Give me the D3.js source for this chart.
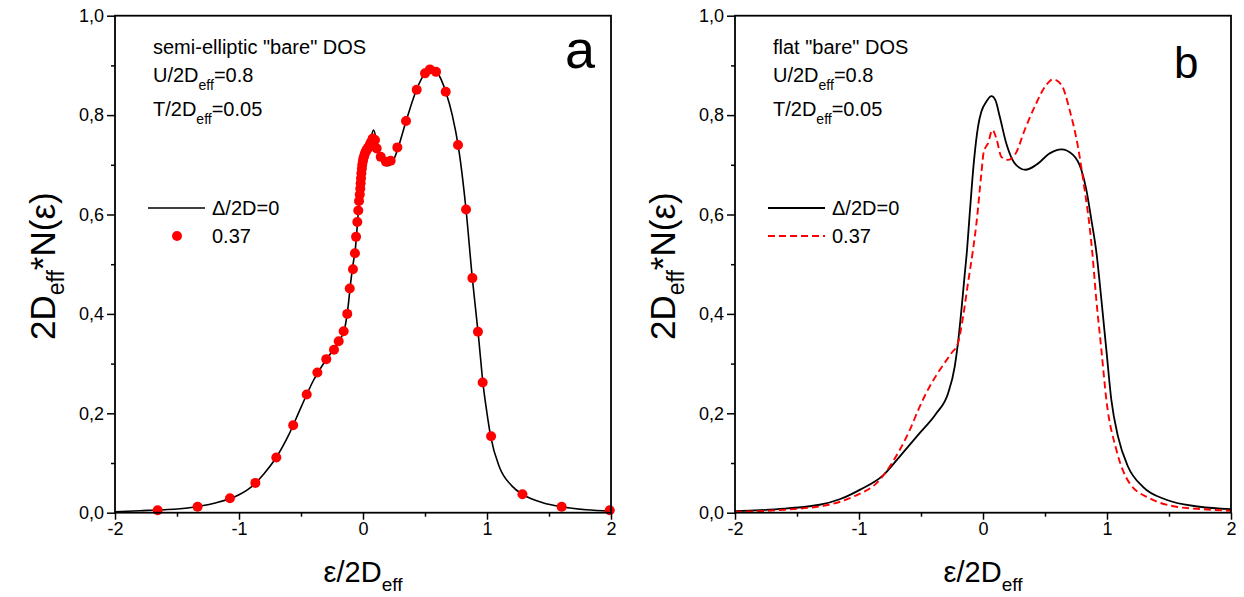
<!DOCTYPE html>
<html>
<head>
<meta charset="utf-8">
<script src="https://cdn.jsdelivr.net/npm/d3@7"></script>
<style>
  body { margin: 0; background: #fff; }
  svg { display: block; font-family: "Liberation Sans", Arial, sans-serif; }
</style>
</head>
<body>
<svg id="chart" width="1244" height="597"></svg>
<script>
// panel a: semi-elliptic bare DOS, Delta/2D = 0 (line) and 0.37 (dots)
var semiLine = [
    [-2.0, 0.002], [-1.8, 0.004], [-1.6, 0.006], [-1.4, 0.010], [-1.2, 0.019],
    [-1.0, 0.036], [-0.9, 0.052], [-0.8, 0.078], [-0.7, 0.111], [-0.6, 0.156],
    [-0.5, 0.212], [-0.4, 0.266], [-0.3, 0.307], [-0.2, 0.343], [-0.15, 0.368],
    [-0.12, 0.415], [-0.1, 0.462], [-0.08, 0.50], [-0.06, 0.535], [-0.04, 0.598],
    [-0.02, 0.660], [0.0, 0.705], [0.03, 0.730], [0.06, 0.750], [0.085, 0.770],
    [0.11, 0.748], [0.14, 0.716], [0.17, 0.700], [0.2, 0.698], [0.24, 0.706],
    [0.28, 0.732], [0.35, 0.790], [0.43, 0.850], [0.5, 0.884], [0.55, 0.892],
    [0.6, 0.885], [0.67, 0.845], [0.72, 0.800], [0.77, 0.735], [0.83, 0.612],
    [0.88, 0.476], [0.93, 0.358], [0.97, 0.255], [1.0, 0.200], [1.03, 0.153],
    [1.1, 0.092], [1.2, 0.054], [1.3, 0.035], [1.45, 0.020], [1.6, 0.012],
    [1.8, 0.006], [2.0, 0.003]
];

var semiDots = [
    [-1.656, 0.005], [-1.334, 0.012], [-1.073, 0.029], [-0.868, 0.060], [-0.699, 0.111],
    [-0.563, 0.176], [-0.454, 0.238], [-0.368, 0.282], [-0.296, 0.309], [-0.234, 0.328],
    [-0.196, 0.345], [-0.156, 0.365], [-0.127, 0.400], [-0.107, 0.451], [-0.081, 0.490],
    [-0.065, 0.522], [-0.056, 0.555], [-0.046, 0.585], [-0.038, 0.608], [-0.032, 0.627],
    [-0.026, 0.640], [-0.022, 0.652], [-0.019, 0.663], [-0.016, 0.673], [-0.013, 0.683],
    [-0.009, 0.692], [-0.006, 0.700], [-0.001, 0.707], [0.003, 0.713], [0.010, 0.718],
    [0.016, 0.723], [0.023, 0.727], [0.030, 0.730], [0.040, 0.734], [0.048, 0.737],
    [0.057, 0.742], [0.065, 0.746], [0.078, 0.753], [0.097, 0.750], [0.110, 0.733],
    [0.143, 0.716], [0.185, 0.706], [0.223, 0.708], [0.277, 0.735], [0.347, 0.788],
    [0.433, 0.851], [0.500, 0.884], [0.540, 0.892], [0.589, 0.887], [0.667, 0.847],
    [0.766, 0.740], [0.831, 0.610], [0.882, 0.472], [0.927, 0.364], [0.965, 0.262],
    [1.033, 0.154], [1.286, 0.037], [1.602, 0.012], [1.990, 0.005]
];

// panel b: flat bare DOS
var flatLine0 = [
    [-2.0, 0.003], [-1.8, 0.005], [-1.6, 0.008], [-1.4, 0.013], [-1.317, 0.016],
    [-1.156, 0.027], [-0.994, 0.046], [-0.806, 0.075], [-0.672, 0.113], [-0.511, 0.160],
    [-0.376, 0.200], [-0.282, 0.240], [-0.228, 0.294], [-0.202, 0.341], [-0.174, 0.408],
    [-0.148, 0.478], [-0.129, 0.528], [-0.107, 0.602], [-0.072, 0.710], [-0.040, 0.777],
    [-0.013, 0.807], [0.027, 0.827], [0.068, 0.838], [0.100, 0.830], [0.135, 0.797],
    [0.188, 0.743], [0.256, 0.703], [0.342, 0.690], [0.430, 0.700], [0.538, 0.723],
    [0.632, 0.731], [0.726, 0.720], [0.793, 0.690], [0.834, 0.649], [0.874, 0.589],
    [0.914, 0.525], [0.955, 0.428], [0.995, 0.327], [1.035, 0.227], [1.089, 0.153],
    [1.169, 0.093], [1.290, 0.052], [1.479, 0.026], [1.747, 0.012], [2.0, 0.007]
];

var flatLine37 = [
    [-2.0, 0.002], [-1.8, 0.003], [-1.6, 0.006], [-1.4, 0.010], [-1.263, 0.015],
    [-1.048, 0.032], [-0.833, 0.066], [-0.752, 0.093], [-0.672, 0.126], [-0.591, 0.166],
    [-0.511, 0.213], [-0.430, 0.254], [-0.349, 0.287], [-0.255, 0.321], [-0.202, 0.341],
    [-0.161, 0.394], [-0.121, 0.462], [-0.081, 0.528], [-0.053, 0.582], [-0.013, 0.683],
    [0.006, 0.726], [0.040, 0.743], [0.076, 0.770], [0.108, 0.753], [0.148, 0.716],
    [0.202, 0.710], [0.264, 0.723], [0.336, 0.770], [0.417, 0.817], [0.511, 0.861],
    [0.565, 0.872], [0.632, 0.861], [0.699, 0.810], [0.766, 0.736], [0.820, 0.649],
    [0.860, 0.575], [0.882, 0.522], [0.914, 0.428], [0.955, 0.327], [0.995, 0.227],
    [1.076, 0.126], [1.183, 0.059], [1.344, 0.029], [1.560, 0.012], [1.774, 0.007],
    [2.0, 0.004]
];

var xTicks = [-2, -1, 0, 1, 2];
var xMinor = [-1.5, -0.5, 0.5, 1.5];
var yTicks = [0, 0.2, 0.4, 0.6, 0.8, 1.0];
var yMinor = [0.1, 0.3, 0.5, 0.7, 0.9];
var infoLines = [["U/2D", "eff", "=0.8"], ["T/2D", "eff", "=0.05"]];

var svg = d3.select('#chart');
var plotTop = 15.7, plotBottom = 512.7, plotW = 496;
var fmt = function(d) { return d3.format('.1f')(d).replace('.', ','); };

function drawPanel(left, opts) {
    var x = d3.scaleLinear().domain([-2, 2]).range([left, left + plotW]);
    var y = d3.scaleLinear().domain([0, 1]).range([plotBottom, plotTop]);
    var g = svg.append('g');

    var line = d3.line()
        .x(function(d) { return x(d[0]); })
        .y(function(d) { return y(d[1]); })
        .curve(d3.curveMonotoneX);

    // curves
    opts.series.forEach(function(s) {
        if (s.type === 'line') {
            g.append('path')
                .datum(s.data)
                .attr('d', line)
                .attr('fill', 'none')
                .attr('stroke', s.color)
                .attr('stroke-width', s.width)
                .attr('stroke-dasharray', s.dash || null);
        } else {
            g.selectAll(null)
                .data(s.data)
                .enter().append('circle')
                .attr('cx', function(d) { return x(d[0]); })
                .attr('cy', function(d) { return y(d[1]); })
                .attr('r', 5)
                .attr('fill', s.color);
        }
    });

    // axes, major + minor ticks pointing out
    g.append('g').attr('transform', 'translate(0,' + plotBottom + ')')
        .call(d3.axisBottom(x).tickValues(xTicks).tickSize(7).tickPadding(3)
            .tickFormat(function(d) { return String(d); }));
    g.append('g').attr('transform', 'translate(0,' + plotBottom + ')')
        .call(d3.axisBottom(x).tickValues(xMinor).tickSize(4).tickFormat(''));
    g.append('g').attr('transform', 'translate(' + left + ',0)')
        .call(d3.axisLeft(y).tickValues(yTicks).tickSize(8).tickPadding(3).tickFormat(fmt));
    g.append('g').attr('transform', 'translate(' + left + ',0)')
        .call(d3.axisLeft(y).tickValues(yMinor).tickSize(4).tickFormat(''));

    g.selectAll('.domain').remove();
    g.selectAll('.tick line').attr('stroke', '#000').attr('stroke-width', 1.5);
    g.selectAll('.tick text')
        .style('font-size', '18px')
        .style('font-family', '"Liberation Sans", Arial, sans-serif')
        .attr('fill', '#000');

    // frame
    g.append('rect')
        .attr('x', left).attr('y', plotTop)
        .attr('width', plotW).attr('height', plotBottom - plotTop)
        .attr('fill', 'none')
        .attr('stroke', '#000')
        .attr('stroke-width', 1.8);

    // axis titles
    var xt = g.append('text')
        .attr('x', x(0)).attr('y', 582)
        .attr('text-anchor', 'middle')
        .style('font-size', '29px');
    xt.append('tspan').text('\u03B5/2D');
    xt.append('tspan').style('font-size', '19px').attr('dy', 9).text('eff');

    var yt = g.append('text')
        .attr('transform', 'translate(' + (left - 60) + ',' + ((plotTop + plotBottom) / 2 + 2) + ') rotate(-90)')
        .attr('text-anchor', 'middle')
        .style('font-size', '35px');
    yt.append('tspan').text('2D');
    yt.append('tspan').style('font-size', '23px').attr('dy', 9).text('eff');
    yt.append('tspan').attr('dy', -9).text('*N(\u03B5)');

    // annotations
    var tx = left + 38;
    g.append('text').attr('x', tx).attr('y', 54).style('font-size', '20px').text(opts.title);
    infoLines.forEach(function(parts, i) {
        var t = g.append('text').attr('x', tx).attr('y', 82 + i * 34).style('font-size', '20px');
        t.append('tspan').text(parts[0]);
        t.append('tspan').style('font-size', '14px').attr('dy', 8).text(parts[1]);
        t.append('tspan').attr('dy', -8).text(parts[2]);
    });

    g.append('text')
        .attr('x', opts.letterX).attr('y', opts.letterY)
        .style('font-size', opts.letterSize + 'px')
        .text(opts.letter);

    // legend
    var lx = left + 33;
    opts.series.forEach(function(s, i) {
        var ly = 208 + i * 28;
        if (s.type === 'line') {
            g.append('line')
                .attr('x1', lx).attr('x2', lx + 57)
                .attr('y1', ly).attr('y2', ly)
                .attr('stroke', s.color)
                .attr('stroke-width', s.width)
                .attr('stroke-dasharray', s.dash || null);
        } else {
            g.append('circle').attr('cx', lx + 29).attr('cy', ly).attr('r', 5).attr('fill', s.color);
        }
        g.append('text')
            .attr('x', lx + 64).attr('y', ly + 7)
            .style('font-size', '20px')
            .text(s.label);
    });
}

drawPanel(115, {
    title: 'semi-elliptic "bare" DOS',
    letter: 'a', letterX: 565, letterY: 68, letterSize: 54,
    series: [
        { type: 'line', data: semiLine, color: '#000', width: 1.6, label: '\u0394/2D=0' },
        { type: 'dots', data: semiDots, color: '#ff0000', label: '0.37' }
    ]
});

drawPanel(735, {
    title: 'flat "bare" DOS',
    letter: 'b', letterX: 1174, letterY: 78, letterSize: 44,
    series: [
        { type: 'line', data: flatLine0, color: '#000', width: 1.8, label: '\u0394/2D=0' },
        { type: 'line', data: flatLine37, color: '#ff0000', width: 1.9, dash: '7,4', label: '0.37' }
    ]
});
</script>
</body>
</html>
